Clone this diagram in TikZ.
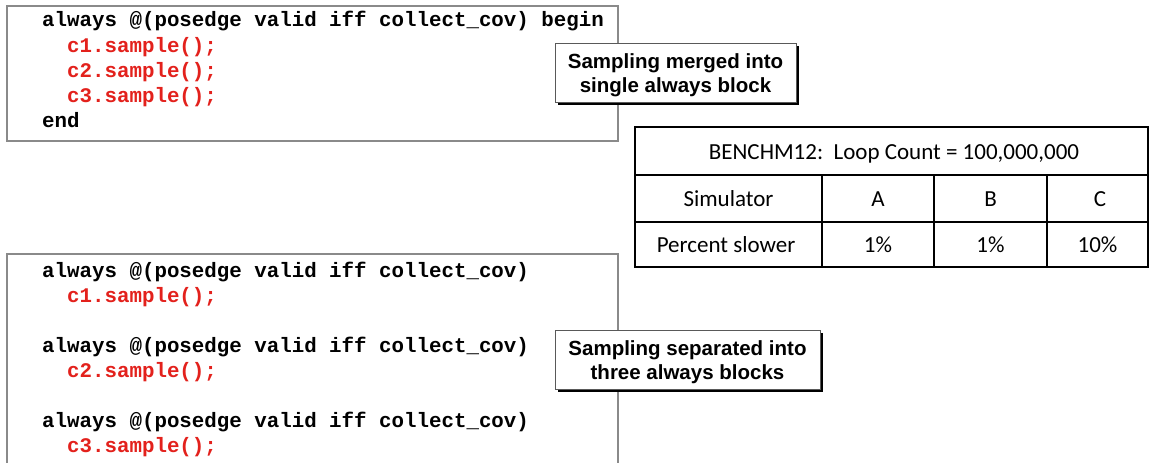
\documentclass[tikz,border=0pt]{standalone}
\usepackage{fontspec}
\setmainfont{Liberation Sans}
\newfontfamily\codefont{Liberation Mono}
\newfontfamily\tabfont{Carlito}
\usetikzlibrary{shadows}

\definecolor{codered}{HTML}{E3211C}
\definecolor{boxgray}{HTML}{8A8A8A}

\tikzset{
  codebox/.style={draw=boxgray, line width=1.6pt},
  codeline/.style={anchor=base west, inner sep=0pt, font=\codefont\bfseries\fontsize{20.8}{25}\selectfont},
  redline/.style={codeline, text=codered},
  notebox/.style={draw=black!65, line width=1pt, fill=white, inner sep=0pt,
    drop shadow={shadow xshift=3pt, shadow yshift=-3pt, fill=black, opacity=1}},
  notetext/.style={anchor=base, inner sep=0pt, font=\bfseries\fontsize{20.5}{24}\selectfont},
  tabrule/.style={line width=2pt, black},
  cell/.style={font=\tabfont\fontsize{23}{26}\selectfont, inner sep=0pt, anchor=base}
}

\begin{document}
\begin{tikzpicture}[x=1pt,y=-1pt]
\useasboundingbox (0,0) rectangle (1151,463);
\clip (0,0) rectangle (1151,463);
\fill[white] (0,0) rectangle (1151,463);

% merged sampling: one always block
\draw[codebox] (7,6) rectangle (618,141);
\node[codeline] (m1) at (42,27) {always @(posedge valid iff collect\_cov) begin};
\node[redline]  (m2) at (42,52) {\ \ c1.sample();};
\node[redline]  (m3) at (42,77) {\ \ c2.sample();};
\node[redline]  (m4) at (42,102) {\ \ c3.sample();};
\node[codeline] (m5) at (42,127) {end};

\node[notebox, minimum width=241pt, minimum height=59pt] (n1) at (675.5,72.5) {};
\node[notetext] (n1a) at (n1.center |- 0,68) {Sampling merged into};
\node[notetext] (n1b) at (n1.center |- 0,92) {single always block};

% separated sampling: three always blocks
\draw[codebox] (7,254) rectangle (618,475);
\node[codeline] (s1) at (42,277) {always @(posedge valid iff collect\_cov)};
\node[redline]  (s2) at (42,302) {\ \ c1.sample();};
\node[codeline] (s3) at (42,352) {always @(posedge valid iff collect\_cov)};
\node[redline]  (s4) at (42,377) {\ \ c2.sample();};
\node[codeline] (s5) at (42,427) {always @(posedge valid iff collect\_cov)};
\node[redline]  (s6) at (42,452) {\ \ c3.sample();};

\node[notebox, minimum width=265pt, minimum height=59pt] (n2) at (687.5,359.5) {};
\node[notetext] (n2a) at (n2.center |- 0,355) {Sampling separated into};
\node[notetext] (n2b) at (n2.center |- 0,379) {three always blocks};

% benchmark table
\draw[tabrule] (635,127) rectangle (1148,267);
\draw[tabrule] (635,175) -- (1148,175);
\draw[tabrule] (635,222) -- (1148,222);
\draw[tabrule] (822,175) -- (822,267);
\draw[tabrule] (934,175) -- (934,267);
\draw[tabrule] (1047,175) -- (1047,267);

\node[cell] (th) at (894,159) {BENCHM12:\ \ Loop Count = 100,000,000};
\node[cell] (r1a) at (728.5,206) {Simulator};
\node[cell] (r1b) at (878,206) {A};
\node[cell] (r1c) at (990.5,206) {B};
\node[cell] (r1d) at (1100,206) {C};
\node[cell] (r2a) at (726,252) {Percent slower};
\node[cell] (r2b) at (878,252) {1\%};
\node[cell] (r2c) at (990.5,252) {1\%};
\node[cell] (r2d) at (1097.5,252) {10\%};
\end{tikzpicture}
\end{document}
